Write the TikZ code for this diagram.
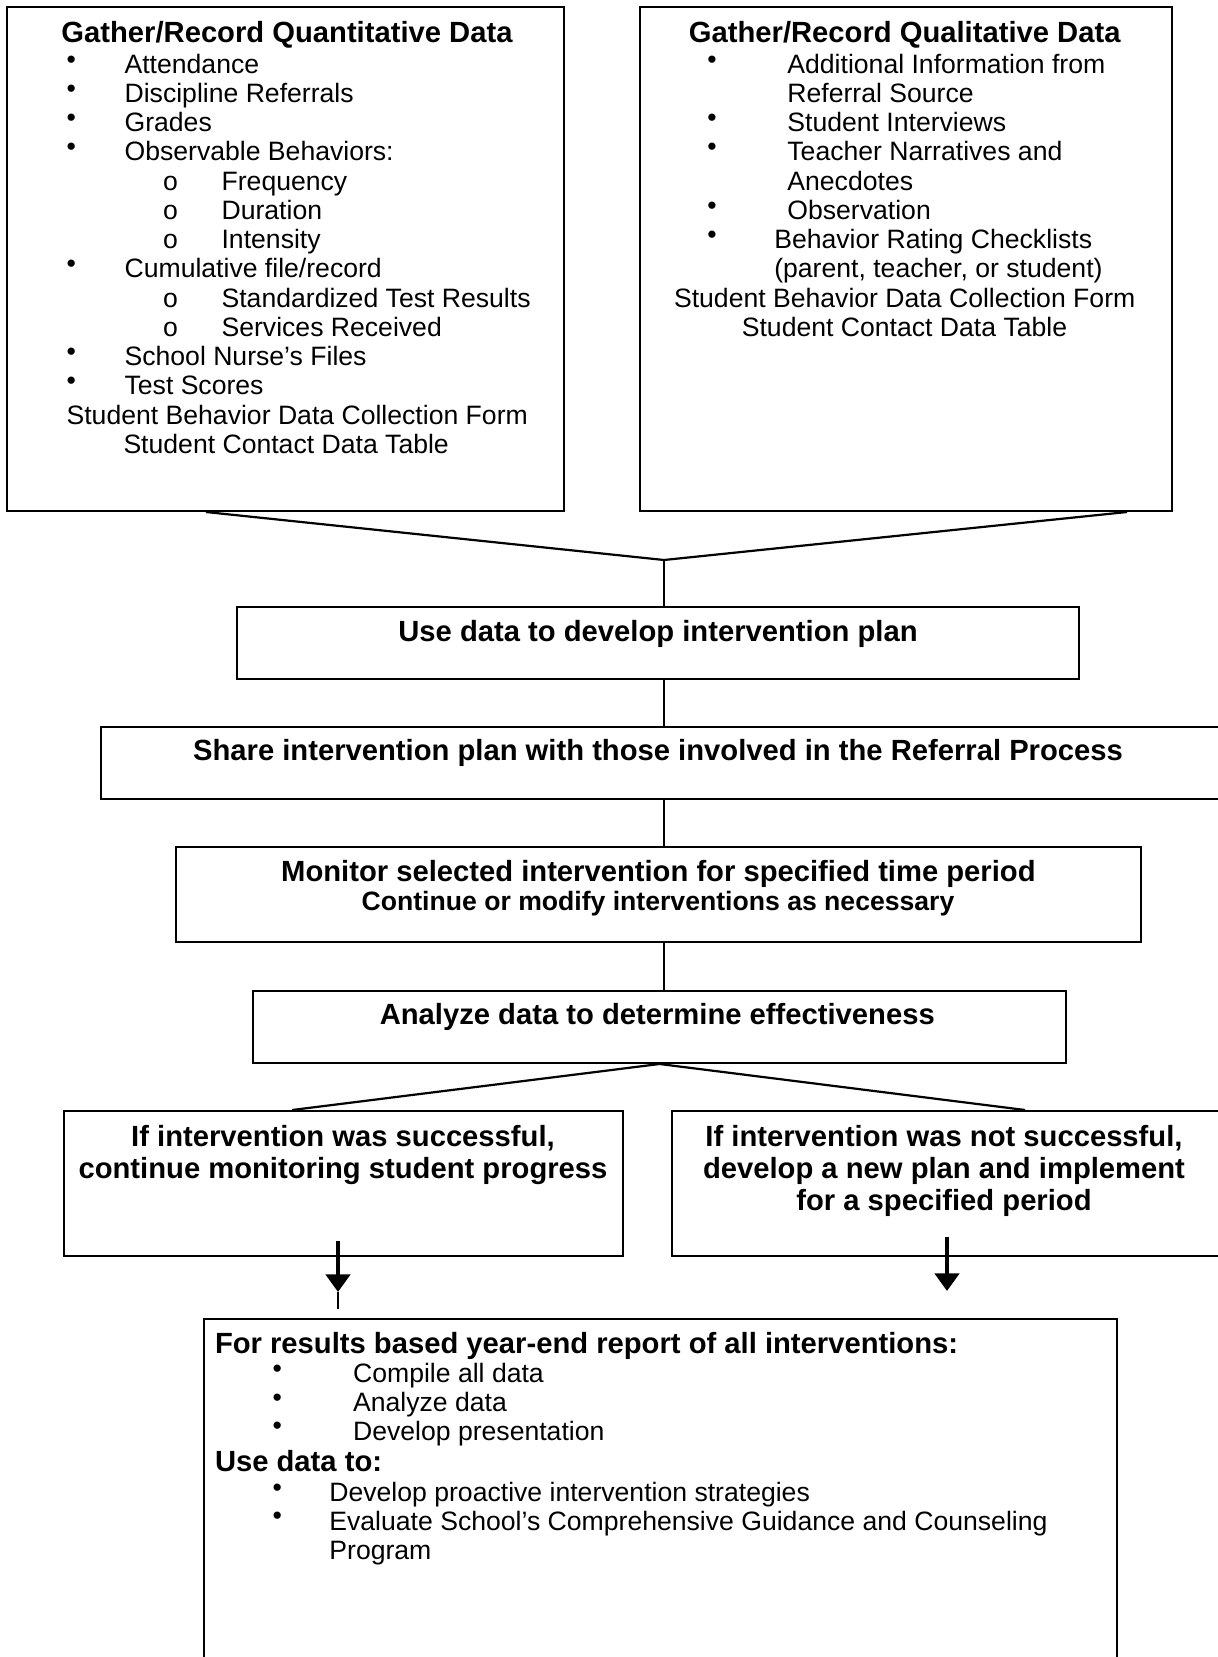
\documentclass[tikz,border=0pt]{standalone}
\usepackage{fontspec}
\setmainfont{Liberation Sans}
\usetikzlibrary{fit,calc,arrows.meta}
\newcommand\listbullet{\raisebox{2.6pt}{•}}

\begin{document}
\begin{tikzpicture}[scale=0.17573]
    \tikzset{
      box/.style={draw, black, line width=1pt, inner sep=0pt},
      link/.style={black, line width=0.6pt},
      fork/.style={black, line width=1.1pt},
      down/.style={black, line width=2.2pt, -{Triangle[width=12pt,length=8.8pt]}},
      itemtext/.style={anchor=base west, inner sep=0pt, font=\fontsize{13.3}{14.6}\selectfont},
      bodytext/.style={anchor=base, inner sep=0pt, font=\fontsize{13.3}{14.6}\selectfont},
      headtext/.style={anchor=base, inner sep=0pt, font=\fontsize{14.6}{15.8}\selectfont\bfseries},
      lefthead/.style={headtext, anchor=base west},
      subhead/.style={headtext, font=\fontsize{13.3}{14.6}\selectfont\bfseries}
    }
    \useasboundingbox (0,0) rectangle (121.7,-165.7);
    % gather boxes
    \node [box, fit={(0.75,-0.7) (56.4,-51.1)}] (quant) {};
    \node [headtext] (quanthead) at (28.7,-4.27) {Gather/Record Quantitative Data};
    \foreach \k/\entry in {0/Attendance, 1/Discipline Referrals, 2/Grades, 3/Observable Behaviors:, 7/{Cumulative file/record}, 10/School Nurse’s Files, 11/Test Scores}
      {
      \node [bodytext] (qdot\k) at (7.12,{-7.33-2.923*\k}) {\listbullet};
      \node [itemtext] (qitem\k) at (12.42,{-7.33-2.923*\k}) {\entry};
      }
    \foreach \k/\entry in {4/Frequency, 5/Duration, 6/Intensity, 8/Standardized Test Results, 9/Services Received}
      {
      \node [bodytext] (qo\k) at (17.04,{-7.33-2.923*\k}) {o};
      \node [itemtext] (qsub\k) at (22.12,{-7.33-2.923*\k}) {\entry};
      }
    \node [itemtext] (qform) at (6.62,-42.41) {Student Behavior Data Collection Form};
    \node [itemtext] (qtable) at (12.31,-45.33) {Student Contact Data Table};
    \node [box, fit={(64.0,-0.7) (117.2,-51.1)}] (qual) {};
    \node [headtext] (qualhead) at (90.47,-4.27) {Gather/Record Qualitative Data};
    \foreach \k in {0,2,3,5,6}
      \node [bodytext] (rdot\k) at (71.19,{-7.33-2.923*\k}) {\listbullet};
    \foreach \k/\entry in {0/Additional Information from, 1/Referral Source, 2/Student Interviews, 3/Teacher Narratives and, 4/Anecdotes, 5/Observation}
      \node [itemtext] (ritem\k) at (78.7,{-7.33-2.923*\k}) {\entry};
    \node [itemtext] (ritem6) at (77.39,-24.87) {Behavior Rating Checklists};
    \node [itemtext] (ritem7) at (77.39,-27.79) {(parent, teacher, or student)};
    \node [bodytext] (rform) at (90.47,-30.71) {Student Behavior Data Collection Form};
    \node [bodytext] (rtable) at (90.45,-33.64) {Student Contact Data Table};
    % steps
    \node [box, fit={(23.7,-60.7) (107.9,-67.9)}] (plan) {};
    \node [headtext] (plantext) at (65.8,-64.17) {Use data to develop intervention plan};
    \node [box, fit={(10.1,-72.7) (122.3,-79.9)}] (share) {};
    \node [headtext] (sharetext) at (65.8,-76.07) {Share intervention plan with those involved in the Referral Process};
    \node [box, fit={(17.55,-84.7) (114.1,-94.2)}] (monitor) {};
    \node [headtext] (monitortext) at (65.84,-88.17) {Monitor selected intervention for specified time period};
    \node [subhead] (monitornote) at (65.8,-91.0) {Continue or modify interventions as necessary};
    \node [box, fit={(25.3,-99.1) (106.6,-106.3)}] (analyze) {};
    \node [headtext] (analyzetext) at (65.73,-102.4) {Analyze data to determine effectiveness};
    \node [box, fit={(6.37,-111.1) (62.3,-125.6)}] (success) {};
    \node [headtext] (success1) at (34.3,-114.67) {If intervention was successful,};
    \node [headtext] (success2) at (34.3,-117.83) {continue monitoring student progress};
    \node [box, fit={(67.2,-111.1) (123.2,-125.6)}] (fail) {};
    \node [headtext] (fail1) at (94.4,-114.67) {If intervention was not successful,};
    \node [headtext] (fail2) at (94.4,-117.83) {develop a new plan and implement};
    \node [headtext] (fail3) at (94.4,-121.0) {for a specified period};
    % year-end report
    \node [box, fit={(20.4,-131.9) (111.7,-170)}] (report) {};
    \node [lefthead] (reporthead) at (21.46,-135.33) {For results based year-end report of all interventions:};
    \foreach \y/\entry [count=\i] in {138.27/Compile all data, 141.17/Analyze data, 144.0/Develop presentation}
      {
      \node [bodytext] (pdot\i) at (27.72,-\y) {\listbullet};
      \node [itemtext] (pitem\i) at (35.27,-\y) {\entry};
      }
    \node [lefthead] (usehead) at (21.46,-147.17) {Use data to:};
    \foreach \y [count=\i] in {150.17,153.0}
      \node [bodytext] (udot\i) at (27.72,-\y) {\listbullet};
    \foreach \y/\entry [count=\i] in {150.17/Develop proactive intervention strategies, 153.0/Evaluate School’s Comprehensive Guidance and Counseling, 155.93/Program}
      \node [itemtext] (uitem\i) at (32.9,-\y) {\entry};
    % connectors
    \coordinate (merge) at (66.4,-56.0);
    \draw [fork] ($(quant.south west)!0.357!(quant.south east)$) -- (merge);
    \draw [fork] ($(qual.south west)!0.914!(qual.south east)$) -- (merge);
    \draw [link] (merge) -- (merge |- plan.north);
    \draw [link] (plan.south -| merge) -- (share.north -| merge);
    \draw [link] (share.south -| merge) -- (monitor.north -| merge);
    \draw [link] (monitor.south -| merge) -- (analyze.north -| merge);
    \draw [fork] (analyze.south) -- ($(success.north west)!0.409!(success.north east)$);
    \draw [fork] (analyze.south) -- ($(fail.north west)!0.63!(fail.north east)$);
    \coordinate (sfrom) at (33.8,-124.1);
    \coordinate (sto) at (33.8,-129.2);
    \coordinate (send) at (33.8,-130.9);
    \coordinate (ffrom) at (94.7,-123.7);
    \coordinate (fto) at (94.7,-129.1);
    \draw [down] (sfrom) -- (sto);
    \draw [link] (sto) -- (send);
    \draw [down] (ffrom) -- (fto);
\end{tikzpicture}
\end{document}
